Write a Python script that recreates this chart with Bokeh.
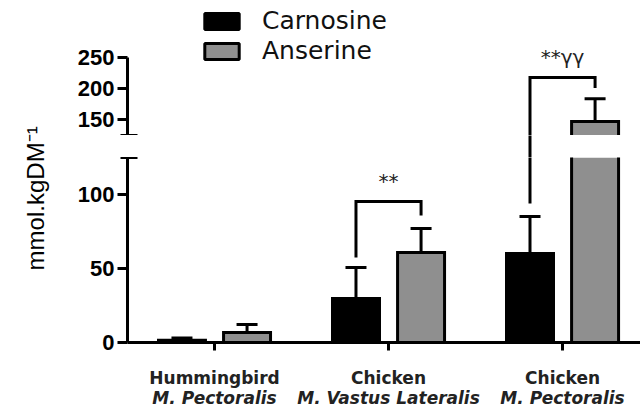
import math
from bokeh.plotting import figure
from bokeh.layouts import column, row
from bokeh.models import Range1d, FixedTicker, Legend, LegendItem
from bokeh.embed import file_html
from bokeh.resources import INLINE
from bokeh.core.properties import value

# ---------------- data ----------------
groups = ["Hummingbird", "Chicken", "Chicken"]
muscles = ["M. Pectoralis", "M. Vastus Lateralis", "M. Pectoralis"]
series = ["Carnosine", "Anserine"]
carnosine = [1.5, 29.7, 60.1]
carnosine_sd = [1.5, 21.0, 25.0]
anserine = [6.8, 60.8, 147.4]
anserine_sd = [5.4, 16.2, 36.6]
lower_ticks = [0, 50, 100]
upper_ticks = [150, 200, 250]
break_at = 125
upper_end = 250
sig_group = [1, 2]
sig_text = ["**", "**γγ"]
sig_left_end = [57.4, 94.0]
sig_top = [95.3, 218.0]
sig_right_end = [85.8, 201.0]
y_label = "mmol.kgDM⁻¹"

# ---------------- styling ----------------
OFF = 0.187
BW = 0.27
GRAY = "#8f8f8f"
FIGW = 590
LEFT = 77
idx = list(range(len(groups)))

bars = []  # (x centre, value, sd, fill)
for i in idx:
    bars.append((i - OFF, carnosine[i], carnosine_sd[i], "black"))
for i in idx:
    bars.append((i + OFF, anserine[i], anserine_sd[i], GRAY))

x_range = Range1d(-0.5, 2.448)


def base_fig(width, height, xr, y0, y1, left, bottom_border, x_axis, y_axis):
    p = figure(width=width, height=height, x_range=xr, y_range=Range1d(y0, y1),
               output_backend="svg", toolbar_location=None, tools="",
               min_border_left=left, min_border_right=0, min_border_top=0,
               min_border_bottom=bottom_border,
               x_axis_location="below" if x_axis else None,
               y_axis_location="left" if y_axis else None)
    p.outline_line_color = None
    p.xgrid.visible = False
    p.ygrid.visible = False
    p.background_fill_color = "white"
    p.border_fill_color = "white"
    return p


def draw_bars(p, part):
    xs, bottoms, tops, fills, oxs, oys = [], [], [], [], [], []
    for xc, v, sd, fill in bars:
        x0, x1 = xc - BW / 2, xc + BW / 2
        if part == "lower":
            top = min(v, break_at)
            xs.append(xc); bottoms.append(0); tops.append(top); fills.append(fill)
            if v <= break_at:
                oxs.append([x0, x0, x1, x1, x0]); oys.append([0, v, v, 0, 0])
            else:
                oxs.append([x0, x0, x1, x1]); oys.append([break_at + 10, 0, 0, break_at + 10])
        else:
            if v > break_at:
                xs.append(xc); bottoms.append(break_at); tops.append(v); fills.append(fill)
                oxs.append([x0, x0, x1, x1]); oys.append([break_at, v, v, break_at])
    p.vbar(x=xs, bottom=bottoms, top=tops, width=BW, fill_color=fills, line_color=None)
    p.multi_line(xs=oxs, ys=oys, line_color="black", line_width=3, line_join="miter")

    ex = [b[0] for b in bars]
    ey0 = [b[1] for b in bars]
    ey1 = [b[1] + b[2] for b in bars]
    p.segment(x0=ex, y0=ey0, x1=ex, y1=ey1, line_color="black", line_width=3)
    p.scatter(x=ex, y=ey1, marker="dash", size=21, line_color="black", line_width=3)

    bxs = [[g - OFF, g - OFF, g + OFF, g + OFF] for g in sig_group]
    bys = [[l, t, t, r] for l, t, r in zip(sig_left_end, sig_top, sig_right_end)]
    p.multi_line(xs=bxs, ys=bys, line_color="black", line_width=3, line_join="miter")

    keep = [k for k, t in enumerate(sig_top) if (t > break_at) == (part == "upper")]
    p.text(x=[sig_group[k] for k in keep], y=[sig_top[k] for k in keep],
           text=[sig_text[k] for k in keep], y_offset=-20, text_align="center",
           text_baseline="middle", text_font=value("DejaVu Sans"),
           text_font_size="20px", text_color="#222222")


def style_yaxis(p, ticks):
    ax = p.yaxis[0]
    ax.ticker = FixedTicker(ticks=ticks, minor_ticks=[break_at])
    ax.axis_line_width = 3
    ax.major_tick_line_width = 3
    ax.major_tick_in = 0
    ax.major_tick_out = 10
    ax.minor_tick_line_width = 3
    ax.minor_tick_in = 10
    ax.minor_tick_out = 7
    ax.major_label_standoff = 3
    ax.major_label_text_font = "Liberation Sans"
    ax.major_label_text_font_style = "bold"
    ax.major_label_text_font_size = "22px"
    ax.major_label_text_color = "black"


# upper segment (125 .. 250): frame 135 px high, 0.624 px per unit
upper = base_fig(FIGW, 135, x_range, break_at, 341.3, LEFT, 0, False, True)
draw_bars(upper, "upper")
style_yaxis(upper, upper_ticks)
upper.yaxis[0].bounds = (break_at, upper_end)

# legend swatches (hidden renderers used only for the legend)
leg_c = upper.vbar(x=[0], top=[break_at], bottom=[break_at], width=BW,
                   fill_color="black", line_color="black", line_width=3, visible=False)
leg_a = upper.vbar(x=[0], top=[break_at], bottom=[break_at], width=BW,
                   fill_color=GRAY, line_color="black", line_width=3, visible=False)
legend = Legend(items=[LegendItem(label=series[0], renderers=[leg_c]),
                       LegendItem(label=series[1], renderers=[leg_a])],
                location=(73, 70), glyph_width=43, glyph_height=20, label_standoff=19,
                label_text_font="DejaVu Sans", label_text_font_size="25px",
                label_text_color="#111111", padding=0, margin=0, spacing=1,
                border_line_color=None, background_fill_alpha=0,
                inactive_fill_alpha=0)
upper.add_layout(legend)

# gap between the two segments: only the bracket legs that cross the break
gap = base_fig(FIGW, 22, x_range, 0, 1, LEFT, 0, False, False)
cross = [k for k, (l, t) in enumerate(zip(sig_left_end, sig_top)) if l < break_at < t]
gap.segment(x0=[sig_group[k] - OFF for k in cross], y0=[-1] * len(cross),
            x1=[sig_group[k] - OFF for k in cross], y1=[2] * len(cross),
            line_color="black", line_width=3)

# lower segment (0 .. 125): frame 185 px high
lower = base_fig(FIGW, 197, x_range, 0, break_at, LEFT, 12, True, True)
draw_bars(lower, "lower")
style_yaxis(lower, lower_ticks)
xa = lower.xaxis[0]
xa.ticker = FixedTicker(ticks=idx)
xa.major_label_overrides = {i: "" for i in idx}
xa.major_label_text_font_size = "4px"
xa.major_label_standoff = 0
xa.axis_line_width = 3
xa.major_tick_line_width = 3
xa.major_tick_in = 0
xa.major_tick_out = 8
xa.minor_tick_line_color = None

# category labels (two lines, second one italic)
xlab = base_fig(FIGW, 54, x_range, 0, 1, LEFT, 0, False, False)
xlab.text(x=idx, y=[0.574] * len(idx), text=groups, text_align="center",
          text_baseline="middle", text_font=value("DejaVu Sans"), text_font_style="bold",
          text_font_size="17px", text_color="#222222")
xlab.text(x=idx, y=[0.2] * len(idx), text=muscles, text_align="center",
          text_baseline="middle", text_font=value("DejaVu Sans"),
          text_font_style="bold italic", text_font_size="17px", text_color="#222222")

# y axis title
ylab = base_fig(50, 408, Range1d(0, 1), 0, 1, 0, 0, False, False)
ylab.text(x=[0.7], y=[0.515], text=[y_label], angle=math.pi / 2, text_align="center",
          text_baseline="middle", text_font=value("Liberation Sans"),
          text_font_size="24px", text_color="black")

layout = row(ylab, column(upper, gap, lower, xlab, spacing=0), spacing=0)
open("out.html", "w").write(file_html(layout, INLINE))
